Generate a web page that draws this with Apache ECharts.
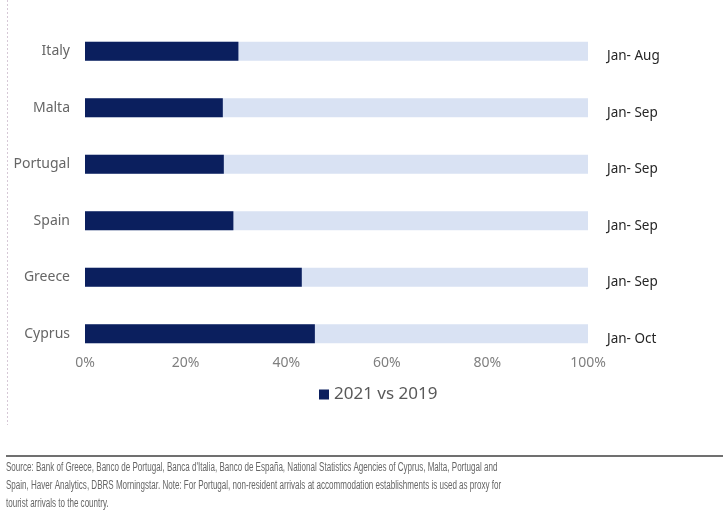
<!DOCTYPE html>
<html>
<head>
<meta charset="utf-8">
<script src="https://cdn.jsdelivr.net/npm/echarts@6/dist/echarts.min.js"></script>
<style>html,body{margin:0;padding:0;background:#fff;}#c{width:723px;height:520px;}</style>
</head>
<body>
<div id="c"></div>
<script>
var countries = ['Italy', 'Malta', 'Portugal', 'Spain', 'Greece', 'Cyprus'];
var periods = ['Jan- Aug', 'Jan- Sep', 'Jan- Sep', 'Jan- Sep', 'Jan- Sep', 'Jan- Oct'];
var values2021vs2019 = [30.5, 27.4, 27.6, 29.5, 43.1, 45.7];
var xTicks = [0, 20, 40, 60, 80, 100];
var seriesName = '2021 vs 2019';
var sourceLines = [
  'Source: Bank of Greece, Banco de Portugal, Banca d\'Italia, Banco de España, National Statistics Agencies of Cyprus, Malta, Portugal and',
  'Spain, Haver Analytics, DBRS Morningstar. Note: For Portugal, non-resident arrivals at accommodation establishments is used as proxy for',
  'tourist arrivals to the country.'
];

var chart = echarts.init(document.getElementById('c'));
chart.setOption({
  animation: false,
  backgroundColor: '#ffffff',
  grid: { left: 85, right: 135, top: 23, bottom: 158, containLabel: false },
  legend: {
    data: [seriesName],
    left: 314, top: 381,
    itemWidth: 10, itemHeight: 10, itemGap: 5,
    icon: 'rect',
    textStyle: { fontFamily: 'Noto Sans', fontSize: 17, color: '#595959' }
  },
  xAxis: {
    type: 'value', min: xTicks[0], max: xTicks[xTicks.length - 1], interval: 20,
    axisLine: { show: false }, axisTick: { show: false }, splitLine: { show: false },
    axisLabel: { formatter: '{value}%', color: '#7f7f7f', fontFamily: 'Noto Sans', fontSize: 14, margin: -6 }
  },
  yAxis: [
    {
      type: 'category', data: countries, inverse: true,
      axisLine: { show: false }, axisTick: { show: false },
      axisLabel: { color: '#666666', fontFamily: 'Noto Sans', fontSize: 14, margin: 15 }
    },
    {
      type: 'category', data: periods, inverse: true, position: 'right',
      axisLine: { show: false }, axisTick: { show: false },
      axisLabel: {
        margin: 19, align: 'left',
        formatter: function (v) { return '{p|' + v + '}'; },
        rich: { p: { color: '#262626', fontFamily: 'Noto Sans', fontSize: 13.5, padding: [10, 0, 0, 0] } }
      }
    }
  ],
  series: [{
    name: seriesName, type: 'bar', data: values2021vs2019, barWidth: 19,
    itemStyle: { color: '#0b1f5e' },
    showBackground: true,
    backgroundStyle: { color: '#d9e2f3' }
  }],
  graphic: [
    { type: 'line', shape: { x1: 7.5, y1: 0, x2: 7.5, y2: 425 }, style: { stroke: '#d6c8d6', lineWidth: 1, lineDash: [2, 2] } },
    { type: 'line', shape: { x1: 6, y1: 456, x2: 723, y2: 456 }, style: { stroke: '#404040', lineWidth: 1.3 } },
    { type: 'text', x: 6, y: 459, scaleX: 0.67, style: { text: sourceLines.join('\n'), fill: '#666666', font: '12px "Liberation Sans", sans-serif', lineHeight: 18 } }
  ]
});
</script>
</body>
</html>
